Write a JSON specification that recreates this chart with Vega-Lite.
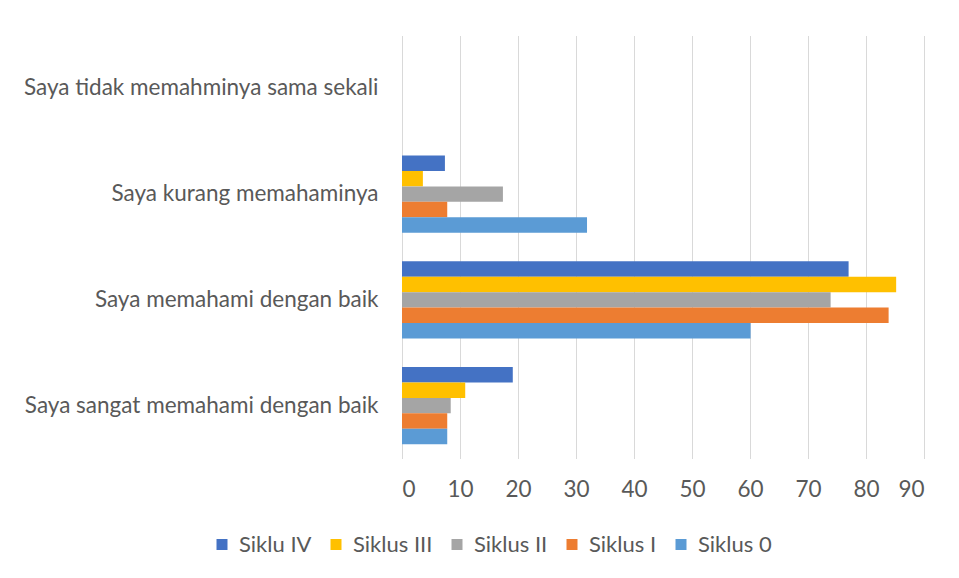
{
  "$schema": "https://vega.github.io/schema/vega-lite/v6.json",
  "autosize": "none",
  "width": 522,
  "height": 423,
  "padding": {"left": 402, "top": 35.5, "right": 35, "bottom": 119.5},
  "background": "white",
  "config": {
    "view": {"stroke": null},
    "font": "Lato",
    "axis": {"labelFont": "Lato", "labelColor": "#595959", "labelFontSize": 22.5}
  },
  "data": {
    "values": [
      {"kategori": "Saya tidak memahminya sama sekali", "siklus": "Siklu IV", "nilai": 0},
      {"kategori": "Saya tidak memahminya sama sekali", "siklus": "Siklus III", "nilai": 0},
      {"kategori": "Saya tidak memahminya sama sekali", "siklus": "Siklus II", "nilai": 0},
      {"kategori": "Saya tidak memahminya sama sekali", "siklus": "Siklus I", "nilai": 0},
      {"kategori": "Saya tidak memahminya sama sekali", "siklus": "Siklus 0", "nilai": 0},
      {"kategori": "Saya kurang memahaminya", "siklus": "Siklu IV", "nilai": 7.4},
      {"kategori": "Saya kurang memahaminya", "siklus": "Siklus III", "nilai": 3.6},
      {"kategori": "Saya kurang memahaminya", "siklus": "Siklus II", "nilai": 17.4},
      {"kategori": "Saya kurang memahaminya", "siklus": "Siklus I", "nilai": 7.8},
      {"kategori": "Saya kurang memahaminya", "siklus": "Siklus 0", "nilai": 31.9},
      {"kategori": "Saya memahami dengan baik", "siklus": "Siklu IV", "nilai": 77.0},
      {"kategori": "Saya memahami dengan baik", "siklus": "Siklus III", "nilai": 85.2},
      {"kategori": "Saya memahami dengan baik", "siklus": "Siklus II", "nilai": 73.9},
      {"kategori": "Saya memahami dengan baik", "siklus": "Siklus I", "nilai": 83.9},
      {"kategori": "Saya memahami dengan baik", "siklus": "Siklus 0", "nilai": 60.1},
      {"kategori": "Saya sangat memahami dengan baik", "siklus": "Siklu IV", "nilai": 19.1},
      {"kategori": "Saya sangat memahami dengan baik", "siklus": "Siklus III", "nilai": 10.9},
      {"kategori": "Saya sangat memahami dengan baik", "siklus": "Siklus II", "nilai": 8.4},
      {"kategori": "Saya sangat memahami dengan baik", "siklus": "Siklus I", "nilai": 7.8},
      {"kategori": "Saya sangat memahami dengan baik", "siklus": "Siklus 0", "nilai": 7.8}
    ]
  },
  "mark": {"type": "bar"},
  "encoding": {
    "y": {
      "field": "kategori",
      "type": "nominal",
      "sort": ["Saya tidak memahminya sama sekali", "Saya kurang memahaminya", "Saya memahami dengan baik", "Saya sangat memahami dengan baik"],
      "scale": {"paddingInner": 0.27, "paddingOuter": 0.135},
      "axis": {"title": null, "domain": false, "ticks": false, "grid": false, "labelPadding": 24, "labelLimit": 400}
    },
    "yOffset": {
      "field": "siklus",
      "type": "nominal",
      "scale": {"domain": ["Siklu IV", "Siklus III", "Siklus II", "Siklus I", "Siklus 0"], "paddingInner": 0, "paddingOuter": 0}
    },
    "x": {
      "field": "nilai",
      "type": "quantitative",
      "scale": {"domain": [0, 90], "nice": false},
      "axis": {"title": null, "domain": false, "ticks": false, "values": [0,10,20,30,40,50,60,70,80,90], "grid": true, "gridColor": "#d9d9d9", "gridWidth": 1, "labelPadding": 20}
    },
    "color": {
      "field": "siklus",
      "type": "nominal",
      "scale": {
        "domain": ["Siklu IV", "Siklus III", "Siklus II", "Siklus I", "Siklus 0"],
        "range": ["#4472C4", "#FFC000", "#A5A5A5", "#ED7D31", "#5B9BD5"]
      },
      "legend": {
        "title": null,
        "orient": "none",
        "direction": "horizontal",
        "legendX": -191,
        "legendY": 498,
        "symbolType": "square",
        "symbolSize": 121,
        "symbolStrokeWidth": 0,
        "labelFont": "Lato",
        "labelFontSize": 22,
        "labelColor": "#595959",
        "labelOffset": 6,
        "columnPadding": 13
      }
    }
  }
}
